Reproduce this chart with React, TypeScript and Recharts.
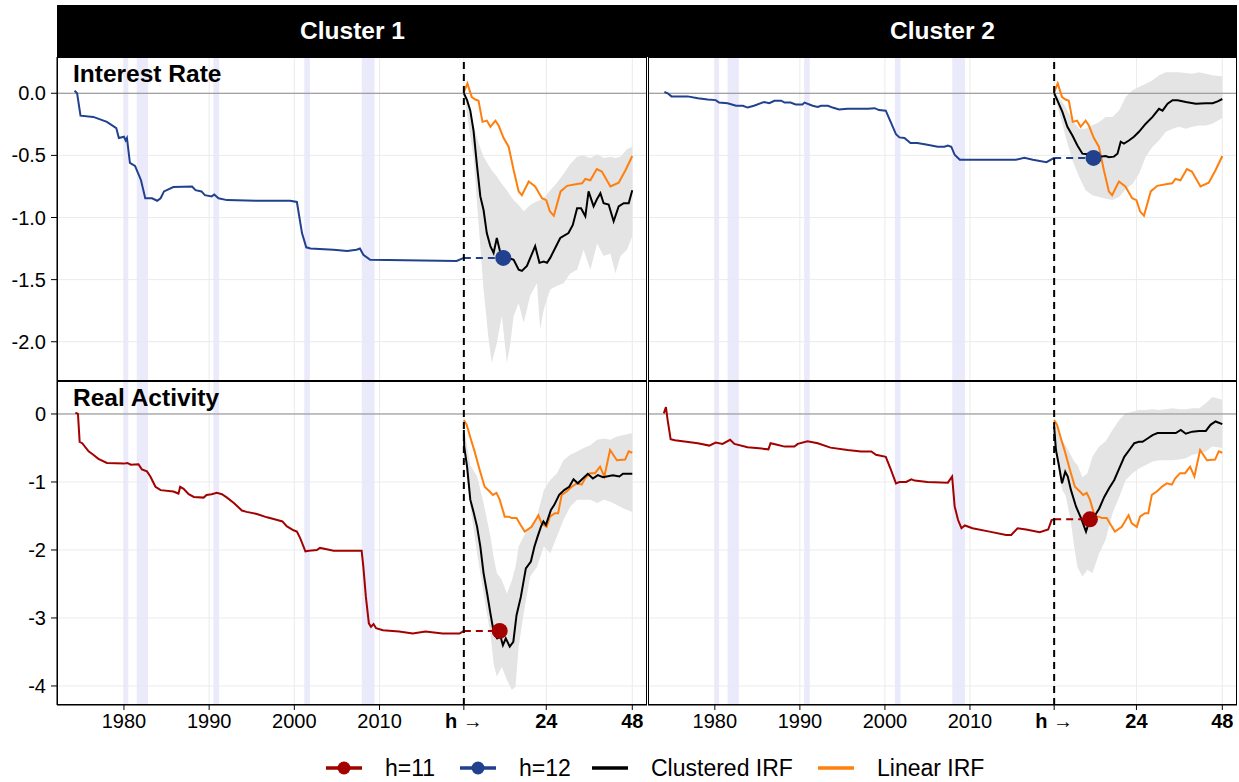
import React from "react";
import {
  ComposedChart,
  Line,
  Area,
  XAxis,
  YAxis,
  CartesianGrid,
  ReferenceLine,
  ReferenceArea,
  ReferenceDot,
} from "recharts";

// NBER recessions (start, end) in decimal years
const recessions: [number, number][] = [
  [1980.0, 1980.5],
  [1981.5, 1982.83],
  [1990.5, 1991.17],
  [2001.17, 2001.83],
  [2007.92, 2009.42],
];

// historical series: [year, value]
const rateCluster1: [number, number][] = [
  [1974.2, 0.02], [1974.5, 0.0], [1974.9, -0.18], [1976.4, -0.19], [1978.0, -0.23],
  [1979.1, -0.28], [1979.4, -0.36], [1980.0, -0.35], [1980.2, -0.38], [1980.35, -0.36],
  [1980.7, -0.56], [1981.3, -0.585], [1982.0, -0.7], [1982.5, -0.845], [1983.3, -0.845],
  [1983.9, -0.865], [1984.3, -0.845], [1984.7, -0.79], [1985.8, -0.755], [1988.0, -0.75],
  [1988.4, -0.78], [1989.1, -0.79], [1989.5, -0.82], [1990.3, -0.83], [1990.6, -0.815],
  [1991.1, -0.845], [1992.1, -0.86], [1995.6, -0.865], [1999.5, -0.865], [2000.3, -0.875],
  [2000.9, -1.125], [2001.4, -1.24], [2001.9, -1.25], [2004.6, -1.26], [2006.2, -1.27],
  [2007.3, -1.26], [2007.7, -1.25], [2008.1, -1.3], [2008.9, -1.34], [2019.05, -1.35],
  [2019.9, -1.325],
];

const rateCluster2: [number, number][] = [
  [1974.07, 0.01], [1974.45, 0.0], [1974.9, -0.025], [1976.8, -0.025], [1978.0, -0.04],
  [1979.15, -0.05], [1980.1, -0.055], [1980.5, -0.075], [1981.5, -0.08], [1982.5, -0.1],
  [1983.3, -0.1], [1983.85, -0.115], [1984.6, -0.1], [1985.8, -0.07], [1986.4, -0.08],
  [1987.0, -0.06], [1987.8, -0.06], [1988.2, -0.075], [1988.9, -0.075], [1989.5, -0.09],
  [1990.3, -0.09], [1990.55, -0.075], [1991.5, -0.1], [1992.1, -0.11], [1992.5, -0.1],
  [1993.3, -0.1], [1993.85, -0.115], [1994.6, -0.13], [1995.6, -0.125], [1998.0, -0.125],
  [1998.8, -0.12], [1999.3, -0.135], [2000.1, -0.14], [2000.7, -0.235], [2001.3, -0.33],
  [2001.7, -0.355], [2002.3, -0.36], [2003.0, -0.4], [2003.8, -0.4], [2005.0, -0.415],
  [2006.2, -0.43], [2007.0, -0.43], [2007.4, -0.42], [2007.8, -0.43], [2008.2, -0.495],
  [2008.8, -0.535], [2015.4, -0.535], [2016.4, -0.52], [2017.4, -0.535], [2019.0, -0.555],
  [2019.9, -0.52],
];

const activityCluster1: [number, number][] = [
  [1974.3, 0.02], [1974.6, 0.0], [1974.8, -0.41], [1975.1, -0.43], [1975.85, -0.55],
  [1976.4, -0.6], [1977.0, -0.66], [1978.0, -0.72], [1980.0, -0.73], [1980.4, -0.72],
  [1980.8, -0.745], [1981.7, -0.74], [1982.1, -0.815], [1982.7, -0.845], [1983.1, -0.92],
  [1983.7, -1.07], [1984.3, -1.12], [1985.8, -1.14], [1986.4, -1.17], [1986.6, -1.07],
  [1987.0, -1.1], [1987.6, -1.18], [1988.2, -1.22], [1989.35, -1.23], [1989.7, -1.19],
  [1990.3, -1.18], [1990.9, -1.16], [1991.5, -1.18], [1992.1, -1.23], [1992.9, -1.31],
  [1993.85, -1.42], [1994.4, -1.44], [1995.6, -1.47], [1996.8, -1.52], [1998.0, -1.56],
  [1998.6, -1.58], [1999.1, -1.65], [1999.9, -1.71], [2000.3, -1.73], [2000.7, -1.83],
  [2001.3, -2.02], [2001.7, -2.01], [2002.65, -2.0], [2003.0, -1.97], [2003.8, -1.99],
  [2004.6, -2.01], [2007.9, -2.01], [2008.1, -2.245], [2008.4, -2.69], [2008.75, -3.08],
  [2009.0, -3.13], [2009.3, -3.09], [2009.6, -3.15], [2010.4, -3.18], [2012.3, -3.2],
  [2013.9, -3.23], [2015.4, -3.2], [2017.4, -3.23], [2019.4, -3.23], [2019.9, -3.19],
];

const activityCluster2: [number, number][] = [
  [1974.0, 0.01], [1974.25, 0.1], [1974.45, -0.09], [1974.8, -0.37], [1975.3, -0.385],
  [1978.0, -0.43], [1979.35, -0.465], [1980.1, -0.42], [1980.9, -0.44], [1981.8, -0.38],
  [1982.3, -0.44], [1983.85, -0.49], [1985.2, -0.505], [1986.3, -0.52], [1986.55, -0.43],
  [1987.2, -0.45], [1988.2, -0.48], [1989.35, -0.48], [1989.75, -0.44], [1990.9, -0.4],
  [1992.1, -0.43], [1993.6, -0.495], [1995.6, -0.53], [1997.2, -0.55], [1998.4, -0.55],
  [1998.95, -0.6], [2000.1, -0.63], [2000.7, -0.82], [2001.3, -1.02], [2001.7, -1.0],
  [2002.5, -1.0], [2003.1, -0.96], [2003.5, -0.98], [2005.0, -1.0], [2007.4, -1.01],
  [2007.9, -0.92], [2008.2, -1.36], [2008.6, -1.56], [2009.0, -1.68], [2009.4, -1.64],
  [2010.3, -1.68], [2012.3, -1.73], [2014.25, -1.78], [2014.85, -1.78], [2015.6, -1.68],
  [2016.6, -1.7], [2018.2, -1.74], [2019.2, -1.7], [2019.6, -1.56], [2019.9, -1.55],
];

// impulse responses: [horizon (months), value]
const rateLinearIrf: [number, number][] = [
  [1, 0.01], [2.0, 0.08], [3.2, -0.03], [4.2, -0.05], [5.1, -0.06], [6.2, -0.23],
  [7.4, -0.22], [8.4, -0.27], [9.8, -0.22], [10.7, -0.26], [12.1, -0.36], [13.5, -0.43],
  [14.9, -0.62], [16.3, -0.79], [17.2, -0.82], [19.1, -0.71], [20.9, -0.75], [22.8, -0.845],
  [24.0, -0.86], [25.0, -0.95], [26.1, -0.985], [28.0, -0.79], [29.8, -0.745], [32.6, -0.73],
  [34.0, -0.725], [34.9, -0.69], [36.3, -0.7], [38.1, -0.61], [39.5, -0.63], [41.9, -0.75],
  [44.2, -0.72], [46.1, -0.62], [48, -0.505],
];

const activityLinearIrf: [number, number][] = [
  [1, -0.09], [1.8, -0.16], [3.0, -0.38], [4.0, -0.55], [5.4, -0.82], [6.8, -1.07],
  [8.2, -1.14], [9.1, -1.19], [10.1, -1.16], [11.0, -1.26], [12.4, -1.51], [13.6, -1.51],
  [14.3, -1.53], [15.7, -1.53], [16.8, -1.63], [18.0, -1.73], [19.9, -1.66], [21.8, -1.49],
  [22.7, -1.61], [24.1, -1.66], [25.0, -1.51], [26.4, -1.46], [27.3, -1.46], [28.3, -1.19],
  [29.7, -1.14], [31.1, -1.07], [32.5, -1.02], [33.9, -1.04], [34.8, -0.95], [36.2, -0.87],
  [37.6, -0.87], [39.0, -0.775], [40.2, -0.92], [41.8, -0.53], [43.7, -0.68], [46.0, -0.67],
  [47.0, -0.55], [48, -0.57],
];

const rateIrfCluster1: [number, number][] = [
  [1, 0], [1.9, -0.055], [2.8, -0.14], [3.7, -0.3], [4.7, -0.59], [5.6, -0.83], [6.5, -0.94],
  [7.4, -1.125], [8.4, -1.23], [9.3, -1.285], [10.2, -1.165], [11.2, -1.285], [12.1, -1.31],
  [14.9, -1.34], [16.3, -1.42], [17.2, -1.43], [18.6, -1.39], [20.9, -1.23], [22.1, -1.365],
  [23.3, -1.355], [24.2, -1.365], [25.1, -1.325], [27.9, -1.165], [30.2, -1.125], [31.4, -1.06],
  [32.6, -0.925], [33.7, -0.925], [34.9, -0.99], [35.8, -0.79], [37.2, -0.91], [38.1, -0.855],
  [39.1, -0.805], [40.0, -0.885], [41.4, -0.895], [42.8, -1.03], [44.2, -0.91], [45.6, -0.885],
  [47.0, -0.885], [48, -0.78],
];

const rateIrfCluster2: [number, number][] = [
  [1, 0], [1.9, -0.057], [3.3, -0.15], [4.7, -0.27], [6.1, -0.34], [7.5, -0.42], [8.9, -0.486],
  [10.3, -0.49], [11.7, -0.505], [13.6, -0.51], [15.4, -0.505], [16.3, -0.515], [17.7, -0.51],
  [18.7, -0.486], [19.6, -0.39], [20.5, -0.405], [21.9, -0.38], [23.3, -0.35], [24.7, -0.31],
  [26.6, -0.245], [28.5, -0.19], [30.3, -0.125], [31.3, -0.14], [32.7, -0.084], [34.1, -0.056],
  [35.5, -0.056], [37.8, -0.07], [40.6, -0.084], [43.4, -0.08], [45.3, -0.08], [46.7, -0.065],
  [48, -0.046],
];

const activityIrfCluster1: [number, number][] = [
  [1, -0.235], [1.1, -0.48], [1.9, -0.775], [2.8, -1.26], [3.7, -1.44], [4.7, -1.66],
  [5.6, -1.95], [6.5, -2.34], [7.5, -2.64], [8.4, -2.93], [9.4, -3.23], [10.3, -3.3],
  [11.2, -3.27], [11.9, -3.4], [12.7, -3.3], [13.8, -3.42], [14.8, -3.35], [15.7, -2.96],
  [16.9, -2.69], [18.3, -2.27], [19.7, -2.17], [20.7, -1.95], [21.6, -1.8], [22.5, -1.66],
  [23.2, -1.58], [23.9, -1.63], [25.3, -1.41], [26.2, -1.34], [27.6, -1.19], [29.0, -1.12],
  [30.4, -1.07], [31.6, -0.96], [32.8, -1.02], [34.2, -0.95], [35.6, -0.88], [37.0, -0.95],
  [38.4, -0.9], [39.8, -0.93], [42.6, -0.9], [44.4, -0.92], [45.4, -0.88], [48, -0.88],
];

const activityIrfCluster2: [number, number][] = [
  [1, -0.19], [1.5, -0.53], [2.3, -0.75], [3.2, -1.02], [4.1, -0.85], [4.8, -0.92],
  [5.7, -1.12], [7.1, -1.36], [8.5, -1.53], [9.9, -1.73], [10.8, -1.58], [12.2, -1.51],
  [13.6, -1.39], [15.0, -1.22], [16.4, -1.09], [17.8, -0.97], [19.2, -0.8], [20.6, -0.63],
  [22.0, -0.53], [23.4, -0.43], [24.7, -0.41], [25.7, -0.41], [27.1, -0.36], [28.5, -0.31],
  [29.9, -0.28], [32.2, -0.28], [35.0, -0.28], [36.4, -0.235], [37.8, -0.29], [39.6, -0.26],
  [41.5, -0.25], [43.4, -0.25], [44.7, -0.16], [46.1, -0.11], [48, -0.15],
];

// confidence bands: [horizon, lower, upper]
const rateBandCluster1: [number, number, number][] = [
  [1, 0, 0], [3.7, -0.51, -0.26], [5.1, -1.05, -0.4], [6.5, -1.58, -0.51], [7.9, -1.98, -0.58],
  [8.8, -2.17, -0.62], [10.2, -2.01, -0.67], [11.6, -1.79, -0.73], [13.0, -2.17, -0.78],
  [13.9, -2.03, -0.82], [14.9, -1.79, -0.86], [16.3, -1.69, -0.9], [17.7, -1.85, -0.95],
  [19.5, -1.63, -0.9], [21.4, -1.53, -0.87], [22.3, -1.9, -0.86], [23.3, -1.74, -0.845],
  [25.1, -1.58, -0.78], [27.0, -1.55, -0.72], [28.8, -1.53, -0.65], [30.7, -1.45, -0.57],
  [32.6, -1.42, -0.51], [34.4, -1.26, -0.5], [36.3, -1.42, -0.52], [38.2, -1.21, -0.49],
  [40.0, -1.31, -0.52], [41.9, -1.29, -0.51], [43.3, -1.45, -0.52], [44.7, -1.31, -0.51],
  [46.5, -1.26, -0.45], [48, -1.15, -0.43],
];

const rateBandCluster2: [number, number, number][] = [
  [1, -0.016, 0.01], [3.3, -0.245, -0.07], [4.2, -0.35, -0.11], [6.1, -0.54, -0.217],
  [8.0, -0.674, -0.285], [9.8, -0.78, -0.285], [11.7, -0.82, -0.258], [13.6, -0.835, -0.231],
  [15.4, -0.85, -0.19], [17.3, -0.86, -0.19], [19.2, -0.835, -0.137], [21.0, -0.77, -0.03],
  [22.9, -0.73, 0.024], [24.7, -0.65, 0.05], [26.6, -0.51, 0.077], [28.5, -0.43, 0.105],
  [30.3, -0.38, 0.145], [32.2, -0.31, 0.17], [34.1, -0.285, 0.17], [35.9, -0.27, 0.17],
  [37.8, -0.285, 0.163], [39.6, -0.27, 0.158], [41.5, -0.26, 0.17], [43.4, -0.26, 0.158],
  [45.2, -0.245, 0.145], [48, -0.2, 0.137],
];

const activityBandCluster1: [number, number, number][] = [
  [1, -0.5, -0.2], [2.8, -1.36, -0.75], [4.7, -2.05, -0.92], [6.5, -2.64, -1.31],
  [8.4, -3.23, -1.8], [9.3, -3.67, -2.1], [10.2, -3.86, -2.34], [11.6, -3.72, -2.44],
  [13.0, -3.91, -2.64], [14.4, -4.06, -2.45], [15.4, -4.01, -2.25], [16.3, -3.42, -1.95],
  [17.7, -2.93, -1.8], [19.5, -2.39, -1.66], [21.4, -2.25, -1.51], [23.3, -1.95, -1.12],
  [25.1, -2.05, -0.97], [27.0, -1.8, -0.87], [28.8, -1.56, -0.68], [30.7, -1.36, -0.6],
  [32.6, -1.26, -0.55], [34.4, -1.26, -0.5], [36.3, -1.26, -0.46], [38.2, -1.31, -0.38],
  [40.0, -1.26, -0.36], [41.9, -1.29, -0.38], [43.7, -1.34, -0.33], [45.6, -1.39, -0.31],
  [48, -1.44, -0.28],
];

const activityBandCluster2: [number, number, number][] = [
  [1, -0.235, -0.09], [2.4, -0.9, -0.33], [3.3, -1.12, -0.4], [4.2, -1.2, -0.46],
  [5.6, -1.56, -0.6], [6.6, -1.95, -0.7], [7.5, -2.25, -0.75], [8.9, -2.39, -0.93],
  [10.3, -2.29, -0.87], [11.7, -2.34, -0.63], [13.6, -2.05, -0.48], [15.4, -1.85, -0.4],
  [17.3, -1.46, -0.235], [19.2, -1.22, -0.09], [21.0, -0.97, 0.01], [22.9, -0.87, 0.034],
  [24.7, -0.8, 0.06], [26.6, -0.75, 0.06], [28.5, -0.7, 0.07], [30.3, -0.68, 0.06],
  [32.2, -0.68, 0.07], [34.1, -0.68, 0.083], [35.9, -0.67, 0.07], [37.8, -0.65, 0.07],
  [39.6, -0.6, 0.083], [41.5, -0.58, 0.083], [43.4, -0.55, 0.157], [45.2, -0.48, 0.25],
  [48, -0.5, 0.21],
];

const yearTicks = [1980, 1990, 2000, 2010];
const horizonTicks = [1, 24, 48];
const horizonTickLabels = ["h", "24", "48"];
const rateTicks = [0, -0.5, -1, -1.5, -2];
const activityTicks = [0, -1, -2, -3, -4];
const clusterNames = ["Cluster 1", "Cluster 2"];

// layout / styling
const FONT = "'Liberation Sans', Arial, Helvetica, sans-serif";
const BLUE = "#21408E";
const RED = "#A30000";
const ORANGE = "#FF7F0E";
const BAND = "#E4E4E4";
const T_END = 2019.9;
const H_STEP = 0.4207;
const X_DOMAIN: [number, number] = [1972.14, 2041.4];
const Y_AXIS_W = 57;
const X_AXIS_H = 45;
const PANEL_H = 324;
const TICK_FONT = 20;

const hx = (h: number) => T_END + (h - 1) * H_STEP;
const xTicks = [...yearTicks, ...horizonTicks.map(hx)];

function XTick(props: any) {
  const { x, y, payload } = props;
  const hi = horizonTicks.findIndex((h) => Math.abs(hx(h) - payload.value) < 1e-6);
  return (
    <g transform={`translate(${x},${y})`}>
      <text textAnchor="middle" dy={16} fontSize={TICK_FONT} fontFamily={FONT} fill="#000">
        {hi < 0 ? (
          String(payload.value)
        ) : hi === 0 ? (
          <>
            <tspan fontWeight="bold">h</tspan>
            <tspan> →</tspan>
          </>
        ) : (
          <tspan fontWeight="bold">{horizonTickLabels[hi]}</tspan>
        )}
      </text>
    </g>
  );
}

type PanelProps = {
  left: number;
  top: number;
  showY: boolean;
  showX: boolean;
  title?: string;
  color: string;
  series: [number, number][];
  irf: [number, number][];
  linear: [number, number][];
  band: [number, number, number][];
  dotH: number;
  yDomain: [number, number];
  yTicks: number[];
  yFormat: (v: number) => string;
};

function Panel(p: PanelProps) {
  const width = p.showY ? 647 : 589;
  const height = PANEL_H + (p.showX ? X_AXIS_H : 0);
  const plotLeft = p.showY ? Y_AXIS_W : 0;
  const last = p.series[p.series.length - 1][1];
  const seriesData = p.series.map(([t, v]) => ({ x: t, v }));
  const irfData = p.irf.map(([h, v]) => ({ x: hx(h), v }));
  const linearData = p.linear.map(([h, v]) => ({ x: hx(h), v }));
  const bandData = p.band.map(([h, lo, hi]) => ({ x: hx(h), r: [lo, hi] }));
  const linkData = [
    { x: hx(1), v: last },
    { x: hx(p.dotH), v: last },
  ];

  return (
    <div style={{ position: "absolute", left: p.left, top: p.top, width, height }}>
      <ComposedChart width={width} height={height} margin={{ top: 0, right: 0, bottom: 0, left: 0 }}>
        <CartesianGrid stroke="#EBEBEB" strokeWidth={1} />
        <XAxis
          type="number"
          dataKey="x"
          domain={X_DOMAIN}
          ticks={xTicks}
          allowDataOverflow
          hide={!p.showX}
          height={X_AXIS_H}
          tick={<XTick />}
          tickSize={5}
          tickMargin={2}
          axisLine={{ stroke: "#000" }}
          tickLine={{ stroke: "#000" }}
          interval={0}
        />
        <YAxis
          type="number"
          domain={p.yDomain}
          ticks={p.yTicks}
          allowDataOverflow
          hide={!p.showY}
          width={Y_AXIS_W}
          tickFormatter={p.yFormat}
          tick={{ fill: "#000", fontSize: TICK_FONT, fontFamily: FONT }}
          tickSize={6}
          tickMargin={5}
          axisLine={{ stroke: "#000" }}
          tickLine={{ stroke: "#000" }}
          interval={0}
        />
        {recessions.map(([a, b]) => (
          <ReferenceArea key={a} x1={a} x2={b} fill="#E6E6FA" fillOpacity={0.85} stroke="none" />
        ))}
        <ReferenceLine y={0} stroke="#8a8a8a" strokeWidth={1} />
        <Area
          data={bandData}
          dataKey="r"
          type="linear"
          fill={BAND}
          fillOpacity={1}
          stroke="none"
          dot={false}
          activeDot={false}
          isAnimationActive={false}
        />
        <Line data={seriesData} dataKey="v" type="linear" stroke={p.color} strokeWidth={2} dot={false} activeDot={false} isAnimationActive={false} />
        <Line data={linearData} dataKey="v" type="linear" stroke={ORANGE} strokeWidth={2} dot={false} activeDot={false} isAnimationActive={false} />
        <Line data={irfData} dataKey="v" type="linear" stroke="#000" strokeWidth={2} dot={false} activeDot={false} isAnimationActive={false} />
        <Line data={linkData} dataKey="v" type="linear" stroke={p.color} strokeWidth={2} strokeDasharray="7 5" dot={false} activeDot={false} isAnimationActive={false} />
        <ReferenceLine x={hx(1)} stroke="#000" strokeWidth={2} strokeDasharray="7 5" />
        <ReferenceDot x={hx(p.dotH)} y={last} r={8} fill={p.color} stroke="none" />
      </ComposedChart>
      <div
        style={{
          position: "absolute",
          left: plotLeft,
          top: 0,
          width: width - plotLeft,
          height: PANEL_H,
          border: "1px solid #000",
          boxSizing: "border-box",
          pointerEvents: "none",
        }}
      />
      {p.title && (
        <div
          style={{
            position: "absolute",
            left: plotLeft + 16,
            top: 5,
            fontFamily: FONT,
            fontWeight: 700,
            fontSize: 24.5,
            lineHeight: "24px",
            color: "#000",
            whiteSpace: "nowrap",
          }}
        >
          {p.title}
        </div>
      )}
    </div>
  );
}

const legendItems = [
  { label: "h=11", color: RED, dot: true },
  { label: "h=12", color: BLUE, dot: true },
  { label: "Clustered IRF", color: "#000", dot: false },
  { label: "Linear IRF", color: ORANGE, dot: false },
];
const legendStarts = [326, 460, 592, 818];

function Legend() {
  return (
    <div style={{ position: "absolute", left: 0, top: 756, fontFamily: FONT, fontSize: 23, color: "#000" }}>
      {legendItems.map((it, i) => (
        <div
          key={it.label}
          style={{
            position: "absolute",
            left: legendStarts[i],
            top: 0,
            display: "flex",
            alignItems: "center",
            whiteSpace: "nowrap",
            height: 24,
          }}
        >
          <svg width={36} height={20} style={{ marginRight: 23 }}>
            <line x1={0} y1={10} x2={36} y2={10} stroke={it.color} strokeWidth={3.5} />
            {it.dot && <circle cx={18} cy={10} r={6.5} fill={it.color} />}
          </svg>
          <span>{it.label}</span>
        </div>
      ))}
    </div>
  );
}

export default function App() {
  const fmtRate = (v: number) => v.toFixed(1);
  const fmtActivity = (v: number) => String(v);
  const rateDomain: [number, number] = [-2.316, 0.292];
  const activityDomain: [number, number] = [-4.28, 0.485];

  return (
    <div
      style={{
        position: "absolute",
        left: 0,
        top: 0,
        width: 1239,
        height: 782,
        background: "#fff",
        fontFamily: FONT,
        overflow: "hidden",
      }}
    >
      {clusterNames.map((name, i) => (
        <div
          key={name}
          style={{
            position: "absolute",
            left: i === 0 ? 57 : 648,
            top: 5,
            width: i === 0 ? 591 : 589,
            height: 52,
            background: "#000",
            color: "#fff",
            fontWeight: 700,
            fontSize: 24.5,
            lineHeight: "52px",
            textAlign: "center",
          }}
        >
          {name}
        </div>
      ))}
      <Panel
        left={0}
        top={57}
        showY
        showX={false}
        title="Interest Rate"
        color={BLUE}
        series={rateCluster1}
        irf={rateIrfCluster1}
        linear={rateLinearIrf}
        band={rateBandCluster1}
        dotH={12}
        yDomain={rateDomain}
        yTicks={rateTicks}
        yFormat={fmtRate}
      />
      <Panel
        left={648}
        top={57}
        showY={false}
        showX={false}
        color={BLUE}
        series={rateCluster2}
        irf={rateIrfCluster2}
        linear={rateLinearIrf}
        band={rateBandCluster2}
        dotH={12}
        yDomain={rateDomain}
        yTicks={rateTicks}
        yFormat={fmtRate}
      />
      <Panel
        left={0}
        top={381}
        showY
        showX
        title="Real Activity"
        color={RED}
        series={activityCluster1}
        irf={activityIrfCluster1}
        linear={activityLinearIrf}
        band={activityBandCluster1}
        dotH={11}
        yDomain={activityDomain}
        yTicks={activityTicks}
        yFormat={fmtActivity}
      />
      <Panel
        left={648}
        top={381}
        showY={false}
        showX
        color={RED}
        series={activityCluster2}
        irf={activityIrfCluster2}
        linear={activityLinearIrf}
        band={activityBandCluster2}
        dotH={11}
        yDomain={activityDomain}
        yTicks={activityTicks}
        yFormat={fmtActivity}
      />
      <Legend />
    </div>
  );
}
